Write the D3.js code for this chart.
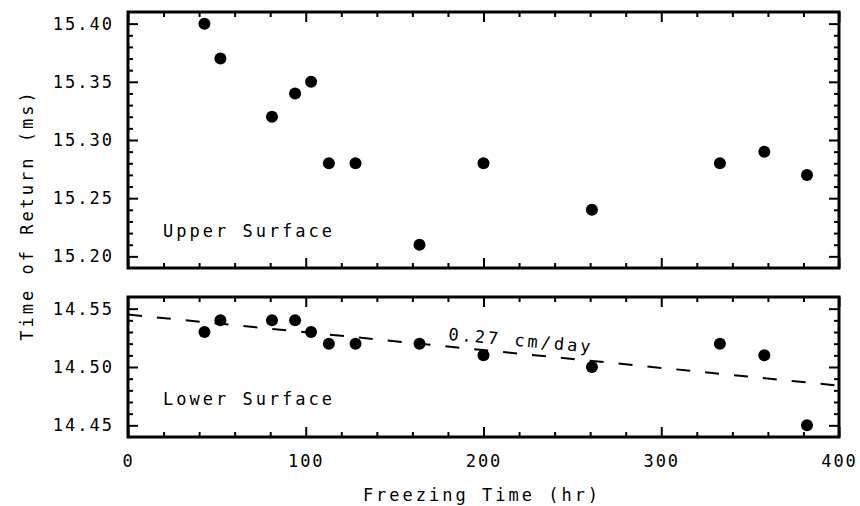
<!DOCTYPE html>
<html>
<head>
<meta charset="utf-8">
<script src="https://cdn.jsdelivr.net/npm/d3@7"></script>
<style>
  body { margin: 0; background: #fff; }
  text { font-family: "DejaVu Sans Mono", monospace; fill: #000; }
</style>
</head>
<body>
<svg class="chart"></svg>
<script>
// freezing time (hr) shared by both surfaces
var hours = [43, 52, 81, 94, 103, 113, 128, 164, 200, 261, 333, 358, 382];
var upperReturn = [15.40, 15.37, 15.32, 15.34, 15.35, 15.28, 15.28, 15.21, 15.28, 15.24, 15.28, 15.29, 15.27];
var lowerReturn = [14.53, 14.54, 14.54, 14.54, 14.53, 14.52, 14.52, 14.52, 14.51, 14.50, 14.52, 14.51, 14.45];
// fitted trend for lower surface
var fitHours = [0, 400];
var fitReturn = [14.545, 14.484];

var xTicks = [0, 100, 200, 300, 400];
var upperTicks = [15.20, 15.25, 15.30, 15.35, 15.40];
var lowerTicks = [14.45, 14.50, 14.55];

var width = 860, height = 506;
var svg = d3.select(".chart").attr("width", width).attr("height", height);

var x = d3.scaleLinear().domain([0, 400]).range([128, 839]);
var yUp = d3.scaleLinear().domain([15.19, 15.41]).range([268, 12]);
var yLo = d3.scaleLinear().domain([14.44, 14.56]).range([437, 297]);

var xMinor = d3.range(20, 400, 20).filter(function(d){ return d % 100 != 0 });
var fmt = d3.format(".2f");

function minorOf(majors, lo, hi) {
  var out = [];
  for (var v = lo; v <= hi + 1e-9; v += 0.01) {
    var r = Math.round(v * 100) / 100;
    if (majors.indexOf(r) < 0) out.push(r);
  }
  return out;
}

function clean(g) {
  g.select(".domain").remove();
  g.selectAll("line").attr("stroke", "#000").attr("stroke-width", 2);
  g.selectAll("text").attr("font-size", 17).attr("letter-spacing", 2);
}

function panel(y, majors, lo, hi, showX) {
  var minors = minorOf(majors, lo, hi);
  var top = y.range()[1], bot = y.range()[0];

  svg.append("g").attr("transform", "translate(128,0)")
    .call(d3.axisLeft(y).tickValues(majors).tickSize(-10).tickPadding(14).tickFormat(fmt)).call(clean);
  svg.append("g").attr("transform", "translate(128,0)")
    .call(d3.axisLeft(y).tickValues(minors).tickSize(-5).tickFormat("")).call(clean);
  svg.append("g").attr("transform", "translate(839,0)")
    .call(d3.axisRight(y).tickValues(majors).tickSize(-10).tickFormat("")).call(clean);
  svg.append("g").attr("transform", "translate(839,0)")
    .call(d3.axisRight(y).tickValues(minors).tickSize(-5).tickFormat("")).call(clean);

  svg.append("g").attr("transform", "translate(0," + top + ")")
    .call(d3.axisTop(x).tickValues(xTicks).tickSize(-10).tickFormat("")).call(clean);
  svg.append("g").attr("transform", "translate(0," + top + ")")
    .call(d3.axisTop(x).tickValues(xMinor).tickSize(-5).tickFormat("")).call(clean);
  svg.append("g").attr("transform", "translate(0," + bot + ")")
    .call(d3.axisBottom(x).tickValues(xTicks).tickSize(-10).tickPadding(18)
      .tickFormat(showX ? d3.format("d") : "")).call(clean);
  svg.append("g").attr("transform", "translate(0," + bot + ")")
    .call(d3.axisBottom(x).tickValues(xMinor).tickSize(-5).tickFormat("")).call(clean);

  svg.append("rect")
    .attr("x", 128).attr("y", top)
    .attr("width", 839 - 128).attr("height", bot - top)
    .attr("fill", "none").attr("stroke", "#000").attr("stroke-width", 3);
}

panel(yUp, upperTicks, 15.20, 15.40, false);
panel(yLo, lowerTicks, 14.45, 14.55, true);

// dashed trend line
var fitLine = d3.line()
  .x(function(d, i){ return x(fitHours[i]) })
  .y(function(d, i){ return yLo(fitReturn[i]) });
svg.append("path")
  .attr("d", fitLine(fitHours))
  .attr("fill", "none").attr("stroke", "#000").attr("stroke-width", 2)
  .attr("stroke-dasharray", "14,15");

svg.selectAll("circle.up").data(hours).enter().append("circle")
  .attr("cx", function(d){ return x(d) })
  .attr("cy", function(d, i){ return yUp(upperReturn[i]) })
  .attr("r", 6);

svg.selectAll("circle.lo").data(hours).enter().append("circle")
  .attr("cx", function(d){ return x(d) })
  .attr("cy", function(d, i){ return yLo(lowerReturn[i]) })
  .attr("r", 6);

svg.append("text")
  .attr("x", 163).attr("y", 237)
  .attr("font-size", 17).attr("letter-spacing", 3)
  .text("Upper Surface");

svg.append("text")
  .attr("x", 163).attr("y", 405)
  .attr("font-size", 17).attr("letter-spacing", 3)
  .text("Lower Surface");

svg.append("text")
  .attr("transform", "translate(448,340) rotate(5)")
  .attr("font-size", 17).attr("letter-spacing", 3)
  .text("0.27 cm/day");

svg.append("text")
  .attr("x", 482).attr("y", 501)
  .attr("text-anchor", "middle")
  .attr("font-size", 17).attr("letter-spacing", 3)
  .text("Freezing Time (hr)");

svg.append("text")
  .attr("transform", "translate(33,215) rotate(-90)")
  .attr("text-anchor", "middle")
  .attr("font-size", 17).attr("letter-spacing", 3)
  .text("Time of Return (ms)");
</script>
</body>
</html>
